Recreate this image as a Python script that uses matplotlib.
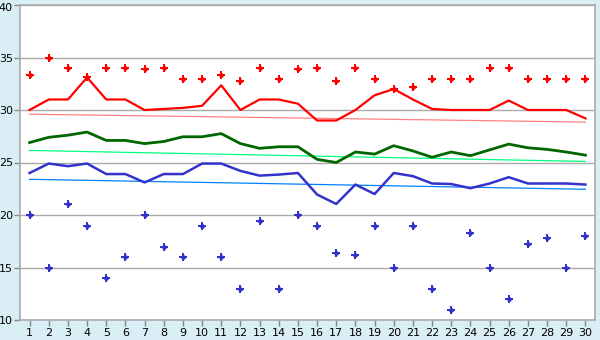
import numpy as np
from matplotlib import pyplot as plt
from matplotlib import transforms

days = np.arange(1, 31)

# upper dots and line (red)
red_points = [33.3, 35.0, 34.0, 33.1, 34.0, 34.0, 33.9, 34.0, 33.0, 33.0,
              33.3, 32.8, 34.0, 33.0, 33.9, 34.0, 32.8, 34.0, 33.0, 32.0,
              32.2, 33.0, 33.0, 33.0, 34.0, 34.0, 33.0, 33.0, 33.0, 33.0]
red_line = [30.0, 31.0, 31.0, 33.1, 31.0, 31.0, 30.0, 30.1, 30.2, 30.4,
            32.35, 30.0, 31.0, 31.0, 30.6, 29.0, 29.0, 30.0, 31.4, 32.0,
            31.0, 30.1, 30.0, 30.0, 30.0, 30.9, 30.0, 30.0, 30.0, 29.2]
red_trend = [29.6, 28.85]

# middle line (green)
green_line = [26.9, 27.4, 27.6, 27.9, 27.1, 27.1, 26.8, 27.0, 27.45, 27.45,
              27.75, 26.8, 26.35, 26.5, 26.5, 25.3, 25.0, 26.0, 25.8, 26.6,
              26.1, 25.5, 26.0, 25.65, 26.2, 26.75, 26.4, 26.25, 26.0, 25.7]
green_trend = [26.15, 25.1]

# lower line and dots (blue)
blue_line = [24.0, 24.9, 24.65, 24.9, 23.9, 23.9, 23.1, 23.9, 23.9, 24.9,
             24.9, 24.2, 23.75, 23.85, 24.0, 21.95, 21.05, 22.9, 22.0, 24.0,
             23.7, 23.0, 22.95, 22.55, 23.0, 23.6, 23.0, 23.0, 23.0, 22.9]
blue_points = [20.0, 15.0, 21.05, 19.0, 14.0, 16.0, 20.0, 17.0, 16.0, 19.0,
               16.0, 13.0, 19.4, 13.0, 20.0, 19.0, 16.35, 16.15, 19.0, 15.0,
               19.0, 13.0, 11.0, 18.25, 15.0, 12.0, 17.2, 17.8, 15.0, 18.0]
blue_trend = [23.4, 22.45]

y_ticks = [10, 15, 20, 25, 30, 35, 40]

fig = plt.figure(figsize=(6, 3.4), dpi=100)
fig.patch.set_facecolor("#D9EEF5")
ax = fig.add_axes([20 / 600, 1 - 320 / 340, 575 / 600, 315 / 340])
ax.set_facecolor("white")

ends = [days[0], days[-1]]
ax.plot(ends, red_trend, color="#FF8080", lw=0.9)
ax.plot(ends, green_trend, color="#00FF80", lw=0.9)
ax.plot(ends, blue_trend, color="#0080FF", lw=0.9)

ax.plot(days, red_line, color="#FF0000", lw=1.6)
ax.plot(days, green_line, color="#006600", lw=2.0)
ax.plot(days, blue_line, color="#3333CC", lw=1.8)

# star-like dots: a plus with a small diamond in the middle
for vals, col in [(red_points, "#FF0000"), (blue_points, "#3333CC")]:
    ax.plot(days, vals, "P", color=col, ms=5.5, mew=0, ls="none")
    ax.plot(days, vals, "D", color=col, ms=3.2, mew=0, ls="none")

ax.set_xlim(0.5, 30.5)
ax.set_ylim(10, 40)
ax.set_xticks(days)
ax.set_yticks(y_ticks)
ax.yaxis.grid(True, color="#AAAAAA", lw=1)
ax.set_axisbelow(True)
for s in ax.spines.values():
    s.set_color("#AAAAAA")
    s.set_linewidth(1.2)
ax.tick_params(colors="#888888", labelcolor="black", labelsize=8, length=4, width=1)
ax.tick_params(axis="y", pad=1)
ax.tick_params(axis="x", pad=1.5)

# nudge the top label down so it stays inside the picture
top_lbl = ax.get_yticklabels()[-1]
top_lbl.set_transform(top_lbl.get_transform()
                      + transforms.ScaledTranslation(0, -2 / 100, fig.dpi_scale_trans))

fig.savefig("out.png", dpi=100, facecolor=fig.get_facecolor())
